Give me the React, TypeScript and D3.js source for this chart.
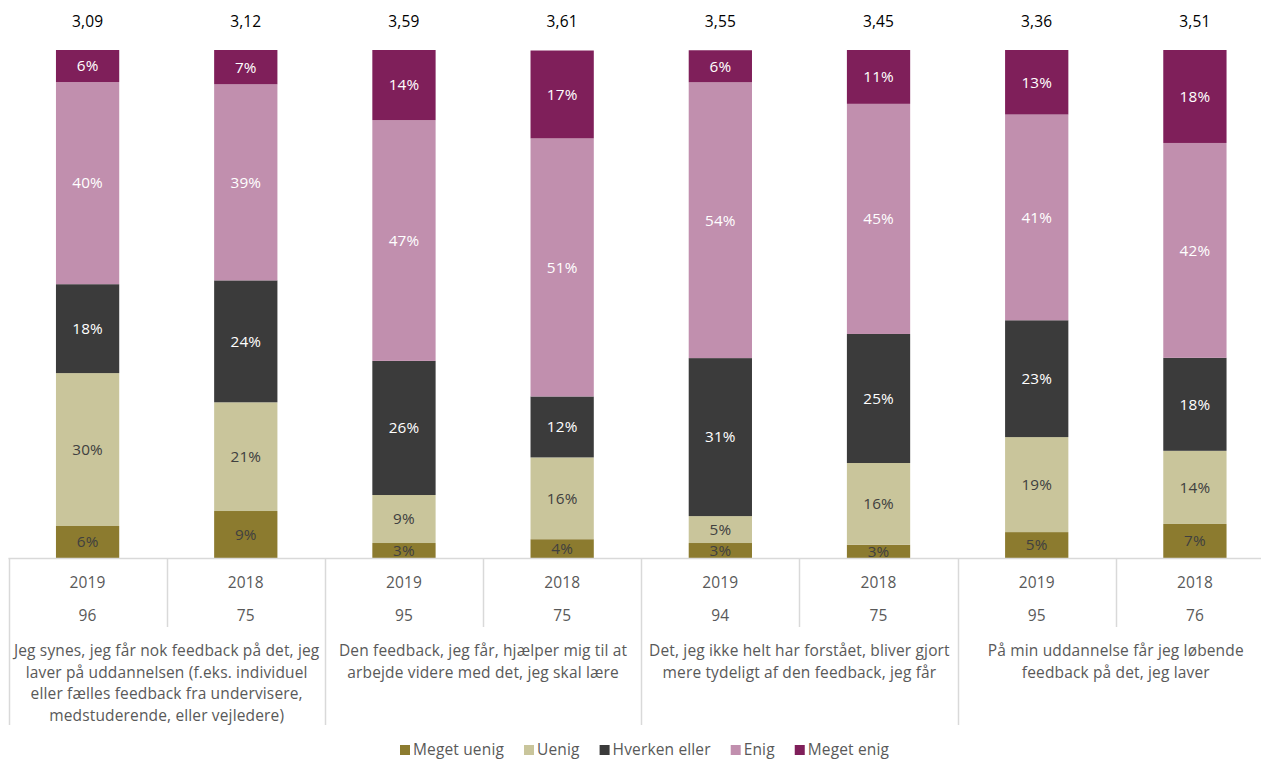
import React from "react";
import * as d3 from "d3";

const seriesNames = ["Meget uenig", "Uenig", "Hverken eller", "Enig", "Meget enig"];
const seriesColors = ["#8c7b2f", "#c9c59b", "#3b3b3b", "#c18fae", "#7f1f5a"];
const labelColors = ["#404040", "#404040", "#ffffff", "#ffffff", "#ffffff"];

const years = ["2019", "2018", "2019", "2018", "2019", "2018", "2019", "2018"];
const counts = ["96", "75", "95", "75", "94", "75", "95", "76"];
const means = ["3,09", "3,12", "3,59", "3,61", "3,55", "3,45", "3,36", "3,51"];

const megetUenig = [6.3, 9.25, 2.95, 3.7, 2.95, 2.6, 5.1, 6.7];
const uenig = [30.1, 21.4, 9.45, 16.1, 5.3, 16.1, 18.7, 14.4];
const hverken = [17.5, 24.0, 26.4, 12.0, 31.1, 25.4, 23.0, 18.3];
const enig = [39.8, 38.6, 47.4, 50.8, 54.3, 45.3, 40.5, 42.3];
const megetEnig = [6.3, 6.75, 13.8, 17.3, 6.3, 10.6, 12.7, 18.3];

const questions = [
  [
    "Jeg synes, jeg får nok feedback på det, jeg",
    "laver på uddannelsen (f.eks. individuel",
    "eller fælles feedback fra undervisere,",
    "medstuderende, eller vejledere)",
  ],
  ["Den feedback, jeg får, hjælper mig til at", "arbejde videre med det, jeg skal lære"],
  ["Det, jeg ikke helt har forstået, bliver gjort", "mere tydeligt af den feedback, jeg får"],
  ["På min uddannelse får jeg løbende", "feedback på det, jeg laver"],
];

const W = 1261;
const H = 760;
const FONT = "'Open Sans', 'DejaVu Sans', sans-serif";

export default function App() {
  const idx = years.map((_, i) => i);
  const rows = idx.map((i) => ({
    i,
    "Meget uenig": megetUenig[i],
    Uenig: uenig[i],
    "Hverken eller": hverken[i],
    Enig: enig[i],
    "Meget enig": megetEnig[i],
  }));
  const stack = d3.stack<any>().keys(seriesNames)(rows);

  const left = 8.5;
  const right = 1274;
  const top = 50;
  const bottom = 558;
  const x = d3
    .scaleBand<number>()
    .domain(idx)
    .range([left, right])
    .paddingInner(0.6)
    .paddingOuter(0.3);
  const y = d3.scaleLinear().domain([0, 100]).range([bottom, top]);
  const step = x.step();
  const bw = x.bandwidth();
  const boundary = (i: number) => left + i * step;

  const gridColor = "#d9d9d9";
  const textFs = 15.5;
  const ls = 0.15;

  // legend layout
  const legendFont = 15.5;
  const measure = (() => {
    const c = document.createElement("canvas").getContext("2d")!;
    c.font = `${legendFont}px 'Open Sans'`;
    return (t: string) => c.measureText(t).width + ls * t.length;
  })();
  const sq = 10;
  const gapSqText = 3;
  const gapItems = 20;
  const widths = seriesNames.map((n) => sq + gapSqText + measure(n));
  let lx = 400;
  const legendPos = widths.map((w) => {
    const p = lx;
    lx += w + gapItems;
    return p;
  });

  return (
    <svg
      width={W}
      height={H}
      style={{ position: "absolute", left: 0, top: 0, background: "#fff" }}
      fontFamily={FONT}
    >
      {/* bars */}
      {stack.map((s, si) => (
        <g key={s.key}>
          {s.map((d, bi) => {
            const y0 = y(d[0]);
            const y1 = y(d[1]);
            return (
              <g key={bi}>
                <rect x={x(bi)} y={y1} width={bw} height={y0 - y1} fill={seriesColors[si]} />
                <text
                  x={(x(bi) as number) + bw / 2}
                  y={(y0 + y1) / 2}
                  dy="0.35em"
                  textAnchor="middle"
                  fontSize={15.3}
                  letterSpacing={ls}
                  fill={labelColors[si]}
                >
                  {Math.round(d[1] - d[0])}%
                </text>
              </g>
            );
          })}
        </g>
      ))}

      {/* means */}
      {means.map((m, i) => (
        <text
          key={i}
          x={(x(i) as number) + bw / 2}
          y={22}
          dy="0.35em"
          textAnchor="middle"
          fontSize={textFs}
          letterSpacing={ls}
          fill="#000"
        >
          {m}
        </text>
      ))}

      {/* axis lines */}
      <line x1={left} x2={W} y1={bottom + 0.5} y2={bottom + 0.5} stroke={gridColor} strokeWidth={1.5} />
      {d3.range(0, 9).map((k) => {
        const isGroup = k % 2 === 0;
        const xx = Math.round(boundary(k)) + 0.5;
        return (
          <line
            key={k}
            x1={xx}
            x2={xx}
            y1={bottom}
            y2={isGroup ? 725 : 627}
            stroke={gridColor}
            strokeWidth={1.5}
          />
        );
      })}

      {/* years and counts */}
      {idx.map((i) => (
        <g key={i}>
          <text x={(x(i) as number) + bw / 2} y={583} dy="0.35em" textAnchor="middle" fontSize={textFs} letterSpacing={ls} fill="#595959">
            {years[i]}
          </text>
          <text x={(x(i) as number) + bw / 2} y={616} dy="0.35em" textAnchor="middle" fontSize={textFs} letterSpacing={ls} fill="#595959">
            {counts[i]}
          </text>
        </g>
      ))}

      {/* questions */}
      {questions.map((lines, g) => {
        const cx = boundary(g * 2 + 1);
        return (
          <g key={g}>
            {lines.map((ln, li) => (
              <text
                key={li}
                x={cx}
                y={651 + li * 21.5}
                dy="0.35em"
                textAnchor="middle"
                fontSize={textFs}
                letterSpacing={ls}
                fill="#595959"
              >
                {ln}
              </text>
            ))}
          </g>
        );
      })}

      {/* legend */}
      {seriesNames.map((n, i) => (
        <g key={n} transform={`translate(${legendPos[i]},750)`}>
          <rect x={0} y={-5} width={sq} height={sq} fill={seriesColors[i]} />
          <text x={sq + gapSqText} y={0} dy="0.35em" fontSize={legendFont} letterSpacing={ls} fill="#595959">
            {n}
          </text>
        </g>
      ))}
    </svg>
  );
}
